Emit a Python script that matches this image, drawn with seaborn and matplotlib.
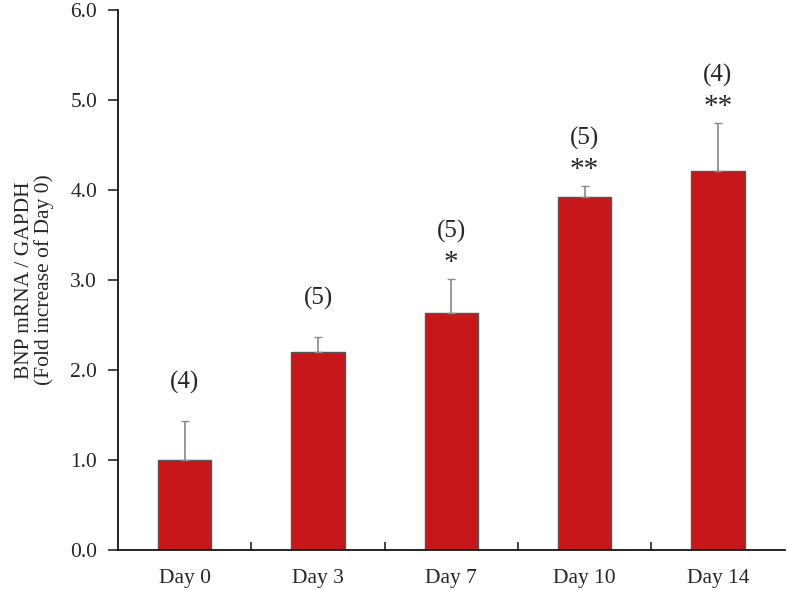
import seaborn as sns
import matplotlib.pyplot as plt
import matplotlib.ticker as mticker
import pandas as pd

# values
days = ['Day 0', 'Day 3', 'Day 7', 'Day 10', 'Day 14']
fold = [1.00, 2.20, 2.63, 3.92, 4.21]
sem = [0.43, 0.17, 0.38, 0.12, 0.53]
n_labels = ['(4)', '(5)', '(5)', '(5)', '(4)']
stars = ['', '', '*', '**', '**']

df = pd.DataFrame({'day': days, 'fold': fold})

sns.set_style('ticks')
plt.rcParams['font.family'] = ['Liberation Serif', 'DejaVu Serif']

fig = plt.figure(figsize=(7.87, 5.90), dpi=100)
ax = fig.add_axes([0.150, 0.068, 0.847, 0.915])

sns.barplot(data=df, x='day', y='fold', color='#C8171B', saturation=1,
            width=0.4, edgecolor='#555555', linewidth=1, errorbar=None, ax=ax)

pos = list(range(len(days)))
ax.errorbar(pos, fold, yerr=[[0] * len(sem), sem], fmt='none',
            ecolor='#888888', elinewidth=1.2, capsize=3, capthick=1)

for x, y, e, n, s in zip(pos, fold, sem, n_labels, stars):
    top = y + e
    if s:
        ax.annotate(s, (x, top), xytext=(0, 3), textcoords='offset pixels',
                    ha='center', va='bottom', fontsize=21)
        ax.annotate(n, (x, top), xytext=(0, 36), textcoords='offset pixels',
                    ha='center', va='bottom', fontsize=18)
    else:
        ax.annotate(n, (x, top), xytext=(0, 27), textcoords='offset pixels',
                    ha='center', va='bottom', fontsize=18)

ax.set_ylim(0, 6)
ax.set_xlim(-0.5, len(days) - 0.5)
ax.yaxis.set_major_locator(mticker.MultipleLocator(1))
ax.yaxis.set_major_formatter(mticker.FormatStrFormatter('%.1f'))
ax.tick_params(axis='y', direction='out', length=7, width=1.2, labelsize=15.5, pad=8)
ax.tick_params(axis='x', which='major', length=0, labelsize=15.5, pad=14)
ax.xaxis.set_minor_locator(mticker.FixedLocator([0.5, 1.5, 2.5, 3.5]))
ax.tick_params(axis='x', which='minor', direction='in', length=6, width=1.2)

ax.set_xlabel('')
ax.set_ylabel('BNP mRNA / GAPDH\n(Fold increase of Day 0)', fontsize=15.5,
              linespacing=1.0, labelpad=12)

sns.despine(ax=ax)
for sp in ['left', 'bottom']:
    ax.spines[sp].set_linewidth(1.2)
    ax.spines[sp].set_color('black')

fig.savefig('out.png', dpi=100)
